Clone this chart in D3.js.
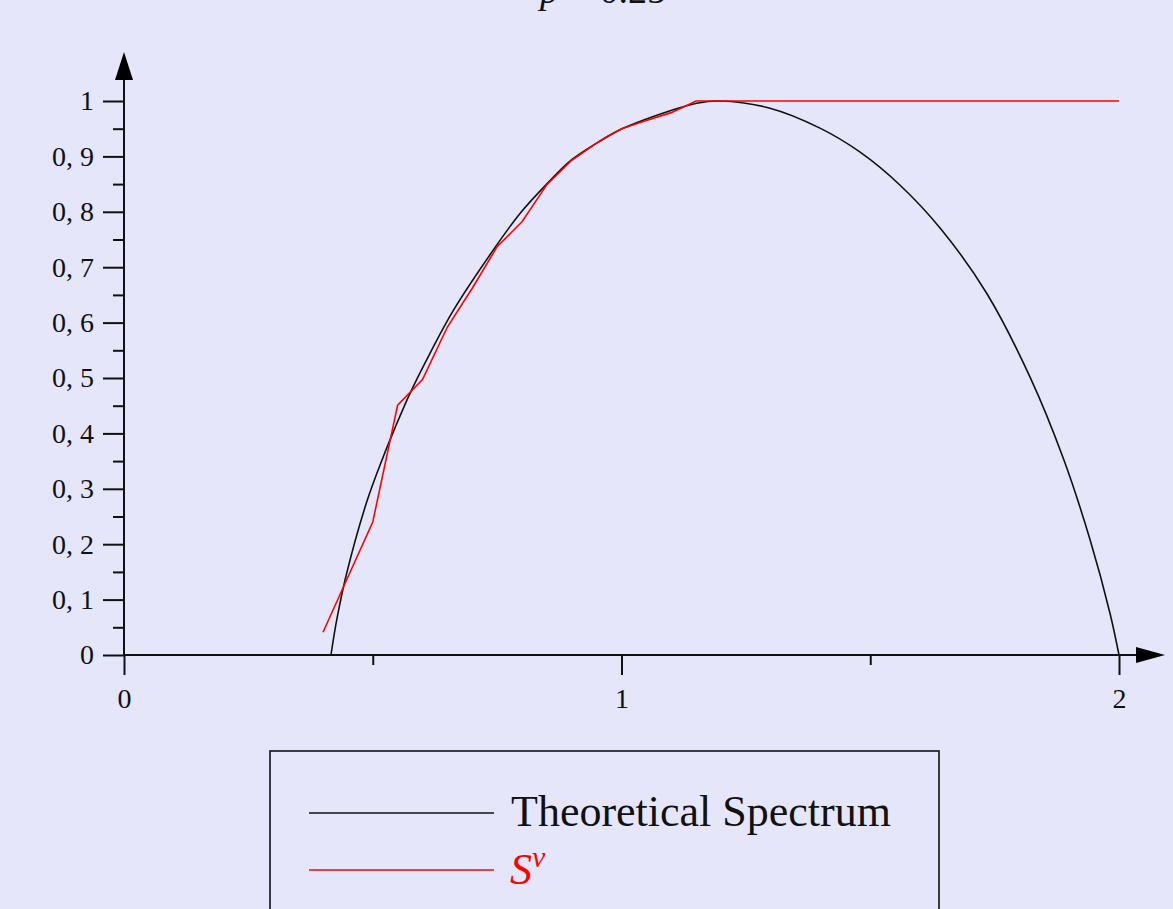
<!DOCTYPE html>
<html>
<head>
<meta charset="utf-8">
<script src="https://cdn.jsdelivr.net/npm/d3@7/dist/d3.min.js"></script>
<style>
  html, body { margin: 0; padding: 0; background: #e6e6fa; overflow: hidden; }
  svg { display: block; }
  text { font-family: "Liberation Serif", "DejaVu Serif", serif; fill: #111; }
</style>
</head>
<body>
<svg id="chart" width="1173" height="909"></svg>
<script>
// Theoretical spectrum (black curve)
const theoryX = [0.416, 0.4275, 0.4476, 0.4878, 0.5212, 0.5447, 0.5749, 0.6151, 0.662, 0.7423,
                 0.796, 0.8496, 0.90, 0.95, 0.997, 1.104, 1.151, 1.198, 1.2985, 1.399, 1.479,
                 1.56, 1.642, 1.734, 1.821, 1.888, 1.942, 1.982, 2.0];
const theoryY = [0.0, 0.063, 0.1475, 0.276, 0.358, 0.410, 0.4724, 0.5446, 0.622, 0.731,
                 0.797, 0.850, 0.894, 0.924, 0.948, 0.984, 0.996, 1.0, 0.987, 0.951, 0.908,
                 0.848, 0.769, 0.653, 0.502, 0.355, 0.2076, 0.075, 0.0];

// Empirical spectrum S^nu (red polyline)
const sX = [0.40, 0.50, 0.55, 0.60, 0.65, 0.70, 0.75, 0.80, 0.85, 0.90, 0.95, 1.00, 1.05, 1.10, 1.15, 2.00];
const sY = [0.041, 0.24, 0.451, 0.497, 0.592, 0.662, 0.737, 0.782, 0.849, 0.893, 0.924, 0.950, 0.965, 0.979, 1.0, 1.0];

// Tick values
const yMajor = [0, 0.1, 0.2, 0.3, 0.4, 0.5, 0.6, 0.7, 0.8, 0.9, 1];
const yMinor = [0.05, 0.15, 0.25, 0.35, 0.45, 0.55, 0.65, 0.75, 0.85, 0.95];
const xMajor = [0, 1, 2];
const xMinor = [0.5, 1.5];

const legendLabels = ["Theoretical Spectrum", "S", "\u03BD"];

const svg = d3.select("#chart");
const x = d3.scaleLinear().domain([0, 2]).range([124, 1119]);
const y = d3.scaleLinear().domain([0, 1]).range([655, 101]);

// Title (sits at the very top edge)
const title = svg.append("text").attr("x", 540).attr("y", 3).style("font-size", "38px");
title.append("tspan").attr("font-style", "italic").text("p");
title.append("tspan").text(" = 0.25");

// Y axis ticks and labels
const fmt = v => v === 0 ? "0" : v === 1 ? "1" : d3.format(".1f")(v).replace(".", ", ");
const yAxis = svg.append("g").attr("transform", `translate(${x(0)},0)`)
  .call(d3.axisLeft(y).tickValues(yMajor).tickSize(21).tickPadding(9).tickFormat(fmt));
yAxis.select(".domain").remove();
yAxis.selectAll("line").attr("stroke", "#111").attr("stroke-width", 2);
yAxis.selectAll("text").style("font-size", "28px").attr("font-family", null).attr("fill", "#111");

const yAxisMinor = svg.append("g").attr("transform", `translate(${x(0)},0)`)
  .call(d3.axisLeft(y).tickValues(yMinor).tickSize(11).tickFormat(""));
yAxisMinor.select(".domain").remove();
yAxisMinor.selectAll("line").attr("stroke", "#111").attr("stroke-width", 2);

// X axis ticks and labels
const xAxis = svg.append("g").attr("transform", `translate(0,${y(0)})`)
  .call(d3.axisBottom(x).tickValues(xMajor).tickSize(20).tickPadding(13).tickFormat(d3.format("d")));
xAxis.select(".domain").remove();
xAxis.selectAll("line").attr("stroke", "#111").attr("stroke-width", 2);
xAxis.selectAll("text").style("font-size", "28px").attr("font-family", null).attr("fill", "#111");

const xAxisMinor = svg.append("g").attr("transform", `translate(0,${y(0)})`)
  .call(d3.axisBottom(x).tickValues(xMinor).tickSize(10).tickFormat(""));
xAxisMinor.select(".domain").remove();
xAxisMinor.selectAll("line").attr("stroke", "#111").attr("stroke-width", 2);

// Axis lines with arrow heads
svg.append("line").attr("x1", x(0)).attr("x2", 1136).attr("y1", y(0)).attr("y2", y(0))
  .attr("stroke", "#111").attr("stroke-width", 2);
svg.append("path").attr("d", `M1136,${y(0) - 8} L1165,${y(0)} L1136,${y(0) + 8} Z`).attr("fill", "#000");
svg.append("line").attr("x1", x(0)).attr("x2", x(0)).attr("y1", y(0)).attr("y2", 80)
  .attr("stroke", "#111").attr("stroke-width", 2);
svg.append("path").attr("d", `M${x(0) - 9},80 L${x(0)},52 L${x(0) + 9},80 Z`).attr("fill", "#000");

// Theoretical curve
const theory = theoryX.map((d, i) => [d, theoryY[i]]);
svg.append("path").datum(theory)
  .attr("fill", "none").attr("stroke", "#111").attr("stroke-width", 1.6)
  .attr("d", d3.line().x(d => x(d[0])).y(d => y(d[1])).curve(d3.curveCatmullRom.alpha(0.5)));

// Empirical polyline
const emp = sX.map((d, i) => [d, sY[i]]);
svg.append("path").datum(emp)
  .attr("fill", "none").attr("stroke", "#ff0000").attr("stroke-width", 1.6)
  .attr("d", d3.line().x(d => x(d[0])).y(d => y(d[1])));

// Legend
const lg = svg.append("g");
lg.append("rect").attr("x", 270).attr("y", 751).attr("width", 669).attr("height", 200)
  .attr("fill", "none").attr("stroke", "#111").attr("stroke-width", 1.6);
lg.append("line").attr("x1", 309).attr("x2", 494).attr("y1", 813).attr("y2", 813)
  .attr("stroke", "#111").attr("stroke-width", 1.6);
lg.append("text").attr("x", 511).attr("y", 826).style("font-size", "44px").text(legendLabels[0]);
lg.append("line").attr("x1", 309).attr("x2", 494).attr("y1", 870).attr("y2", 870)
  .attr("stroke", "#ff0000").attr("stroke-width", 1.6);
const sv = lg.append("text").attr("x", 510).attr("y", 884).style("font-size", "44px").attr("fill", "#ff0000");
sv.append("tspan").attr("font-style", "italic").attr("fill", "#ff0000").text(legendLabels[1]);
sv.append("tspan").attr("font-style", "italic").attr("fill", "#ff0000").attr("dy", -17)
  .style("font-size", "30px").text(legendLabels[2]);
</script>
</body>
</html>
